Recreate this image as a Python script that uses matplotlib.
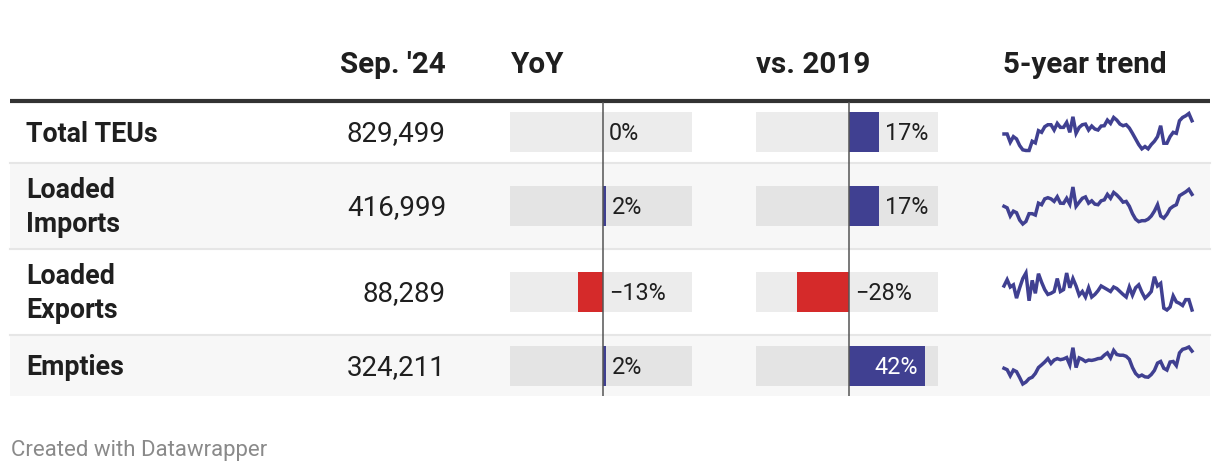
import matplotlib.pyplot as plt
from matplotlib import transforms

plt.rcParams['font.family'] = ['Roboto', 'DejaVu Sans']

# data
rows = ['Total TEUs', 'Loaded\nImports', 'Loaded\nExports', 'Empties']
sep24 = [829499, 416999, 88289, 324211]
yoy = [0.2, 1.8, -13.4, 1.8]
vs2019 = [16.6, 16.7, -28.4, 41.8]
headers = ["Sep. '24", 'YoY', 'vs. 2019', '5-year trend']

trend_total = [709, 709, 634, 685, 664, 604, 565, 559, 559, 643, 628, 739, 724, 775, 793, 793,
               745, 805, 769, 769, 814, 724, 865, 715, 769, 793, 799, 745, 781, 754, 745, 781,
               784, 835, 805, 859, 835, 799, 784, 793, 763, 715, 664, 613, 574, 595, 574, 613,
               643, 685, 784, 625, 625, 685, 724, 715, 829, 859, 874, 895, 829]
trend_imports = [356, 348, 306, 331, 323, 285, 265, 278, 318, 318, 311, 372, 364, 394, 400, 394,
                 381, 405, 372, 371, 397, 367, 455, 356, 377, 397, 404, 372, 384, 367, 364, 384,
                 389, 417, 397, 427, 414, 397, 377, 381, 356, 318, 290, 277, 282, 282, 290, 306,
                 331, 364, 306, 295, 315, 344, 356, 364, 410, 420, 430, 443, 417]
trend_exports = [122.6, 131.6, 121.1, 124.2, 105.2, 120.0, 133.2, 141.1, 101.5, 130.6, 112.1,
                 140.1, 127.9, 117.4, 110.5, 112.1, 114.7, 133.2, 114.7, 117.4, 141.1, 120.0,
                 133.2, 122.6, 109.4, 114.7, 106.8, 120.0, 106.8, 110.5, 115.8, 122.6, 120.0,
                 117.4, 114.7, 121.1, 118.9, 114.7, 110.5, 106.8, 121.1, 109.4, 120.0, 124.2,
                 113.7, 105.2, 109.4, 114.7, 135.8, 122.6, 126.3, 91.0, 88.3, 92.5, 108.4,
                 99.9, 97.8, 94.7, 103.1, 103.1, 88.3]
trend_empties = [228, 220, 186, 218, 209, 176, 140, 151, 170, 178, 199, 232, 247, 263, 282, 255,
                 274, 282, 276, 280, 288, 247, 343, 232, 286, 278, 266, 274, 272, 276, 282, 284,
                 301, 314, 286, 328, 305, 301, 301, 295, 278, 232, 199, 182, 190, 180, 178, 193,
                 216, 257, 266, 228, 218, 263, 266, 243, 314, 334, 339, 347, 324]
trends = [trend_total, trend_imports, trend_exports, trend_empties]

W, H = 1220, 472
BLUE = '#404091'
RED = '#d52a2a'
TXT = '#1f1f1f'

fig = plt.figure(figsize=(W / 100, H / 100), dpi=100)
fig.patch.set_facecolor('white')

ax = fig.add_axes([0, 0, 1, 1])
ax.set_xlim(0, W)
ax.set_ylim(H, 0)
ax.axis('off')


def px_axes(x0, y0, w, h):
    return fig.add_axes([x0 / W, 1 - (y0 + h) / H, w / W, h / H])


# lignes du tableau (en pixels)
tops = [102, 163, 249, 335]
bottoms = [162, 248, 334, 396]
centers = [(t + b) / 2 for t, b in zip(tops, bottoms)]

for i in range(len(rows)):
    if i % 2 == 1:
        ax.fill_between([10, 1210], tops[i], bottoms[i], color='#f7f7f7', lw=0)
    if i > 0:
        ax.plot([10, 1210], [tops[i] - 0.5, tops[i] - 0.5], color='#e6e6e6', lw=1.5)

ax.plot([10, 1210], [100.5, 100.5], color='#333333', lw=3, solid_capstyle='butt')

# en-têtes
hfs = 21.3
ax.text(446, 73.3, headers[0], ha='right', va='baseline', fontsize=hfs, fontweight='bold', color=TXT)
ax.text(511, 73.3, headers[1], ha='left', va='baseline', fontsize=hfs, fontweight='bold', color=TXT)
ax.text(756, 73.3, headers[2], ha='left', va='baseline', fontsize=hfs, fontweight='bold', color=TXT)
ax.text(1003, 73.3, headers[3], ha='left', va='baseline', fontsize=hfs, fontweight='bold', color=TXT)

# noms et valeurs
for i, name in enumerate(rows):
    lines = name.split('\n')
    n = len(lines)
    for k, line in enumerate(lines):
        base = centers[i] + 9.5 + (k - (n - 1) / 2) * 33.4
        ax.text(26, base, line, ha='left', va='baseline', fontsize=19.3, fontweight='bold', color=TXT)
    ax.text(446, centers[i] + 9.5, f'{sep24[i]:,}', ha='right', va='baseline', fontsize=20, color=TXT)

# colonnes de barres
lo, hi = -51, 49
for x0, vals in [(510, yoy), (756, vs2019)]:
    bx = px_axes(x0, 102, 182, 294)
    bx.set_xlim(lo, hi)
    bx.set_ylim(396, 102)
    bx.axis('off')
    bx.barh(centers, [hi - lo] * len(centers), left=lo, height=40, color='black', alpha=0.075, lw=0)
    cols = [BLUE if v >= 0 else RED for v in vals]
    bx.barh(centers, vals, height=40, color=cols, lw=0)
    bx.axvline(0, color='#555555', lw=1.1)
    for i, v in enumerate(vals):
        lab = f'{round(v)}%'.replace('-', '\u2212')
        if hi - v < 15:
            tr = transforms.offset_copy(bx.transData, fig=fig, x=-7, y=0, units='dots')
            bx.text(v, centers[i] + 8, lab, transform=tr, ha='right', va='baseline',
                    fontsize=16.8, color='white')
        else:
            tr = transforms.offset_copy(bx.transData, fig=fig, x=6, y=0, units='dots')
            bx.text(max(v, 0), centers[i] + 8, lab, transform=tr, ha='left', va='baseline',
                    fontsize=16.8, color=TXT)

# sparklines
for i, t in enumerate(trends):
    sx = px_axes(1004, centers[i] - 18.5, 188, 37)
    sx.plot(range(len(t)), t, color=BLUE, lw=2.5, clip_on=False, solid_joinstyle='miter')
    sx.set_xlim(0, len(t) - 1)
    sx.set_ylim(min(t), max(t))
    sx.axis('off')

ax.text(11, 456, 'Created with Datawrapper', ha='left', va='baseline', fontsize=16, color='#8a8a8a')

plt.savefig('out.png', dpi=100)
